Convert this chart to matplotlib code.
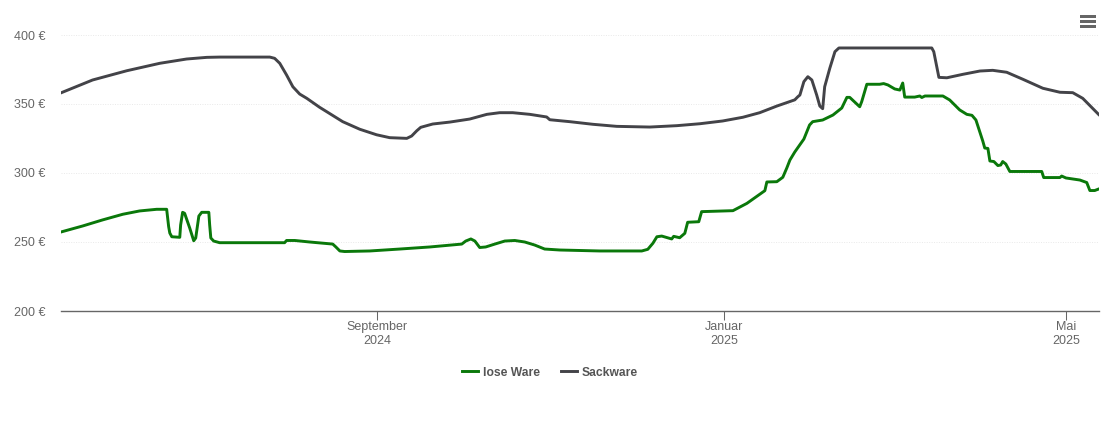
#!/usr/bin/env python3
"""Heating oil price history, loose delivery vs. bagged."""
import matplotlib
matplotlib.use("Agg")
import matplotlib.dates as mdates
import matplotlib.pyplot as plt
from matplotlib.lines import Line2D
from matplotlib.patches import Rectangle
import numpy as np

START_DATE = "2024-05-13"

# days since START_DATE, price in euro
LOSE_DAYS = [
    0, 7.7, 14.7, 21.8, 27.7, 33.7, 37.2, 37.9, 38.3, 39, 41.8, 42.1, 42.8, 43.5,
    45.3, 46.7, 47.4, 48.5, 49.5, 52, 52.3, 52.7, 53.7, 55.8, 78.6, 79.3, 82.2,
    87.4, 95.5, 96.6, 98, 99.7, 108.5, 119, 129.6, 140.8, 142.2, 144, 145.4, 147.1,
    149.2, 152.4, 155.9, 159.4, 162.9, 166.4, 169.9, 175.2, 189.2, 204, 206.1,
    207.9, 209.3, 211, 214.5, 215.2, 217.3, 219.1, 220.1, 224, 225, 236, 240.9,
    247.2, 247.9, 251.4, 253.5, 254.9, 256, 257.7, 260.9, 262.9, 264, 267.5, 271.1,
    274.2, 276, 277, 280.5, 281.2, 283, 287.5, 288.9, 290.4, 292.8, 294.6, 295.6,
    296.3, 299.8, 301.6, 302.3, 303.4, 309.7, 312.1, 315.6, 318.1, 319.9, 321.3,
    323.7, 324.4, 325.5, 326.2, 327.6, 329, 330, 330.7, 331.8, 333.2, 344.4, 345.1,
    350.8, 351.4, 352.9, 357.8, 360.2, 361.3, 363, 364.4,
]
LOSE_EUR = [
    257.2, 261.6, 266, 270.1, 272.5, 273.7, 273.7, 261.1, 256.5, 253.8, 253.4,
    262.3, 271.5, 270.8, 260.1, 250.9, 252.9, 268.8, 271.5, 271.5, 262.3, 252.9,
    250.7, 249.5, 249.5, 251.1, 251.1, 250, 248.5, 246.4, 243.5, 243.1, 243.5,
    244.9, 246.4, 248.5, 250.7, 252.2, 250.7, 246, 246.4, 248.5, 250.7, 251.1, 250,
    247.8, 244.9, 244.2, 243.5, 243.5, 244.7, 249.1, 253.8, 254.3, 252.2, 254.1,
    253.1, 256.3, 264.3, 264.7, 272, 272.7, 278, 287.2, 293.5, 293.7, 296.9, 303.6,
    309.4, 315.2, 324.6, 334.8, 337.2, 338.4, 342, 347.1, 354.8, 354.8, 348, 351.7,
    364.3, 364.3, 364.8, 363.8, 360.9, 360.1, 365.2, 355, 355, 355.8, 354.7, 355.8,
    355.8, 352.9, 345.7, 342.5, 341.8, 338.4, 323.2, 318.1, 317.8, 308.7, 308.3,
    305.4, 305.8, 308.3, 306.5, 301.1, 301.1, 296.7, 296.7, 297.8, 296.4, 294.9,
    293.1, 287.3, 287.3, 288.4,
]
SACK_DAYS = [
    0, 11.2, 23.2, 34.8, 44.2, 51.3, 55.8, 73.4, 75.1, 76.9, 79.3, 81.5, 83.9, 86.4,
    90.9, 93.4, 99, 105, 110.9, 115.5, 121.5, 123.2, 125, 126.4, 130.6, 136.6, 143.6,
    149.6, 154.1, 158.7, 164.7, 170.6, 171.7, 178.7, 186.8, 195.2, 206.8, 216.3,
    224.4, 232.4, 239.5, 245.4, 251.4, 257.7, 258.8, 259.5, 260.9, 262.3, 263.7,
    265.4, 266.5, 267.5, 268.2, 270, 271.8, 273.2, 305.8, 306.5, 308.3, 311.1, 316.7,
    322.7, 327.2, 332.1, 337.8, 344.8, 350.8, 355.3, 358.8, 364.4,
]
SACK_EUR = [
    358, 367.4, 374.1, 379.5, 382.6, 383.8, 384, 384, 383.1, 379.5, 371, 362.5, 357.2,
    354.1, 347.6, 344.4, 337.2, 331.7, 327.7, 325.6, 325.1, 326.8, 330.6, 333.1, 335.5,
    336.9, 339.1, 342.5, 343.7, 343.7, 342.5, 340.6, 338.6, 337.2, 335.3, 333.8, 333.3,
    334.3, 335.7, 337.7, 340.4, 343.7, 348.5, 353, 355.3, 356.5, 366.2, 369.8, 367.4,
    356.5, 348.5, 346.6, 362.5, 375.9, 387.9, 390.6, 390.6, 387.9, 369.3, 369, 371.5,
    373.9, 374.4, 373, 367.9, 361.4, 358.5, 358.2, 354.1, 342.4,
]

Y_TICKS = [200, 250, 300, 350, 400]
X_TICK_DATES = ["2024-09-01", "2025-01-01", "2025-05-01"]
X_TICK_LABELS = ["September\n2024", "Januar\n2025", "Mai\n2025"]
LAST_DAY = 364.4

GREEN = "#0a780a"
DARK = "#434348"
AXIS = "#666666"
GRID = "#e9e9e9"
W, H = 1110, 422

plt.rcParams["font.family"] = ["Liberation Sans", "DejaVu Sans"]


def main():
    fig = plt.figure(figsize=(W / 100, H / 100), dpi=100, facecolor="white")
    ax = fig.add_axes([60.7 / W, (H - 311) / H, 1038 / W, 276 / H])

    t0 = mdates.date2num(np.datetime64(START_DATE))
    ax.plot(t0 + np.array(LOSE_DAYS), LOSE_EUR, color=GREEN, lw=2.1,
            solid_joinstyle="round", zorder=3)
    ax.plot(t0 + np.array(SACK_DAYS), SACK_EUR, color=DARK, lw=2.1,
            solid_joinstyle="round", zorder=3)

    ax.set_xlim(t0, t0 + LAST_DAY)
    ax.set_ylim(200, 400)
    ax.set_yticks(Y_TICKS)
    ax.set_yticklabels([f"{v} €" for v in Y_TICKS])
    ax.set_xticks([mdates.date2num(np.datetime64(d)) for d in X_TICK_DATES])
    ax.set_xticklabels(X_TICK_LABELS, linespacing=1.22)

    ax.tick_params(axis="y", length=0, pad=11, labelsize=9, labelcolor=AXIS)
    ax.tick_params(axis="x", length=6.5, width=0.75, color=AXIS, pad=0.6,
                   labelsize=9, labelcolor=AXIS)
    ax.grid(axis="y", color=GRID, lw=0.7, ls=(0, (1, 1.5)), zorder=0)
    ax.set_axisbelow(True)

    for name, spine in ax.spines.items():
        spine.set_visible(name == "bottom")
    ax.spines["bottom"].set_color(AXIS)
    ax.spines["bottom"].set_linewidth(1.0)

    handles = [
        Line2D([], [], color=GREEN, lw=2.1, label="lose Ware"),
        Line2D([], [], color=DARK, lw=2.1, label="Sackware"),
    ]
    fig.legend(handles=handles, loc="center", ncol=2, frameon=False,
               bbox_to_anchor=(550 / W, (H - 372.5) / H),
               handlelength=1.3, handletextpad=0.42, columnspacing=1.75,
               labelcolor="#555555", prop={"weight": "bold", "size": 8.7})

    # burger menu top right
    for y in (15, 20, 25):
        fig.add_artist(Rectangle((1080 / W, (H - y - 2.7) / H), 16 / W, 2.7 / H,
                                 transform=fig.transFigure, color="#666666", lw=0))

    fig.savefig("out.png", dpi=100, facecolor="white")
    plt.close(fig)


if __name__ == "__main__":
    main()
